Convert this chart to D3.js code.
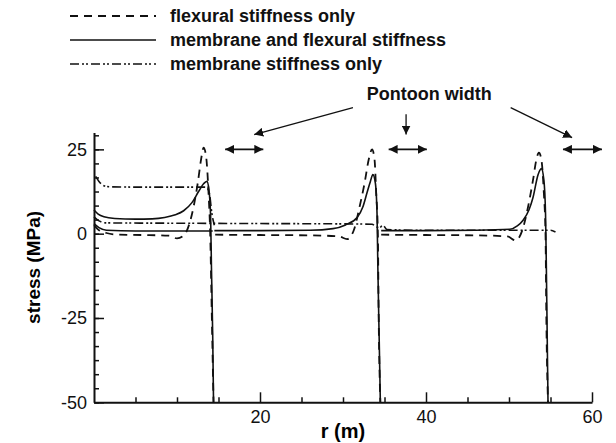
<!DOCTYPE html>
<html>
<head>
<meta charset="utf-8">
<script src="https://cdn.jsdelivr.net/npm/d3@7"></script>
<style>
body { margin: 0; background: #fff; }
svg { display: block; font-family: "Liberation Sans", Arial, sans-serif; }
</style>
</head>
<body>
<div id="chart"></div>
<script>
// stress along r, one piece per pontoon: [r (m), stress (MPa)]
const flexuralOnly = [
  [[0,2.5],[0.5,1.2],[1.5,0.2],[3,-0.3],[6,-0.4],[9,-0.6],[10,-1.4],[10.8,-0.6],[11.5,3],[12,8],[12.5,15],[12.9,22],[13.2,25.5],[13.5,23],[13.8,12],[14,0],[14.2,-25],[14.4,-50]],
  [[14.6,-0.3],[20,-0.4],[26,-0.5],[29.5,-0.8],[30.5,-1.6],[31.3,1],[32,8],[32.6,15],[33.1,22],[33.5,25],[33.8,22],[34,12],[34.2,0],[34.3,-25],[34.5,-50]],
  [[34.6,-0.3],[40,-0.4],[46,-0.5],[49.8,-0.8],[50.8,-2],[51.6,1],[52.3,8],[52.9,16],[53.3,22],[53.6,24],[53.9,22],[54.2,12],[54.4,0],[54.5,-25],[54.7,-50]]
];
const membraneAndFlexural = [
  [[0,7],[0.5,5.8],[1.2,5],[2.5,4.5],[5,4.3],[7,4.4],[8.5,4.8],[9.8,5.6],[10.8,6.8],[11.8,9.2],[12.6,12.5],[13.2,14.8],[13.6,15.5],[13.85,13],[14.05,5],[14.15,-10],[14.3,-30],[14.4,-50]],
  [[0,3],[0.6,1.8],[1.5,1],[5,0.8],[10,0.8],[14.3,0.8]],
  [[14.5,0.9],[20,0.9],[26,1],[28.8,1.5],[30.3,2.6],[31.7,4.8],[32.4,8],[32.9,12.2],[33.3,15.5],[33.6,17.5],[33.9,15],[34.1,6],[34.2,-10],[34.35,-30],[34.5,-50]],
  [[34.6,0.9],[40,0.9],[46,1],[50.1,1.3],[51,2.3],[51.7,4],[52.4,7],[52.9,10.8],[53.5,17.5],[53.9,19.3],[54.2,16],[54.4,6],[54.5,-10],[54.6,-30],[54.7,-50]]
];
const membraneOnly = [
  [[0.2,17],[0.6,15.5],[1.2,14.2],[2,13.9],[6,13.8],[10,13.8],[13.5,13.8],[13.9,12],[14.2,6],[14.5,2.5]],
  [[0,5],[0.6,3.8],[1.5,3.2],[10,3.1],[20,3],[30,2.9],[33.5,2.8],[34,2],[34.4,1.8],[34.8,2.5],[35.3,1.2],[40,1],[50,1],[55,1],[55.6,0.5]]
];

const seriesNames = ['flexural stiffness only', 'membrane and flexural stiffness', 'membrane stiffness only'];
const xMajorTicks = [20, 40, 60];
const xMinorTicks = [5, 10, 15, 25, 30, 35, 45, 50, 55];
const yMajorTicks = [-50, -25, 0, 25];
const yMinorTicks = d3.range(-50, 30, 25 / 6);

// pontoon width markers (r range) and the label arrows
const pontoonFrom = [15.8, 35.5, 56.5];
const pontoonTo = [20.4, 40.1, 61.2];
const pontoonLevel = 25;
const labelArrows = [
  [[31.2, 37.4], [19.3, 29.4]],
  [[37.6, 35.4], [37.6, 29.4]],
  [[50.2, 37.4], [57.6, 28.5]]
];

const width = 616, height = 443;
const svg = d3.select('#chart').append('svg')
  .attr('width', width)
  .attr('height', height);

const x = d3.scaleLinear().domain([0, 60]).range([94, 592]);
const y = d3.scaleLinear().domain([-50, 30]).range([402.3, 132.5]);

const dashes = ['8,6', null, '9,3,2,2,2,3'];
const strokeW = [1.8, 1.6, 1.6];
const allSeries = [flexuralOnly, membraneAndFlexural, membraneOnly];

const line = d3.line()
  .x(d => x(d[0]))
  .y(d => y(d[1]))
  .curve(d3.curveMonotoneX);

const curves = svg.append('g');
allSeries.forEach((pieces, i) => {
  curves.selectAll(null)
    .data(pieces)
    .enter()
    .append('path')
    .attr('d', line)
    .attr('fill', 'none')
    .attr('stroke', '#111')
    .attr('stroke-width', strokeW[i])
    .attr('stroke-dasharray', dashes[i]);
});

// axes, ticks drawn inward
svg.append('g')
  .attr('transform', `translate(${x(0)},0)`)
  .call(d3.axisLeft(y).tickValues(yMajorTicks).tickSize(-10).tickSizeOuter(0).tickPadding(7).tickFormat(d => String(d)));
svg.append('g')
  .attr('transform', `translate(${x(0)},0)`)
  .call(d3.axisLeft(y).tickValues(yMinorTicks).tickSize(-5).tickSizeOuter(0).tickFormat(''))
  .select('.domain').remove();

svg.append('g')
  .attr('transform', `translate(0,${y(-50)})`)
  .call(d3.axisBottom(x).tickValues(xMajorTicks).tickSize(-10).tickSizeOuter(0).tickPadding(8).tickFormat(d => String(d)));
svg.append('g')
  .attr('transform', `translate(0,${y(-50)})`)
  .call(d3.axisBottom(x).tickValues(xMinorTicks).tickSize(-5).tickSizeOuter(0).tickFormat(''))
  .select('.domain').remove();

svg.selectAll('.domain').attr('stroke', '#111').attr('stroke-width', 2);
svg.selectAll('.tick line').attr('stroke', '#111').attr('stroke-width', 1.5);
svg.selectAll('.tick text')
  .attr('fill', '#111')
  .style('font-size', '18px')
  .style('font-family', '"Liberation Sans", Arial, sans-serif');

svg.append('text')
  .attr('x', (x(0) + x(60)) / 2)
  .attr('y', 438)
  .attr('text-anchor', 'middle')
  .style('font-size', '20px')
  .style('font-weight', 'bold')
  .text('r (m)');

svg.append('text')
  .attr('transform', `translate(40,${(y(-50) + y(30)) / 2}) rotate(-90)`)
  .attr('text-anchor', 'middle')
  .style('font-size', '19px')
  .style('font-weight', 'bold')
  .text('stress (MPa)');

// arrowheads
const defs = svg.append('defs');
defs.append('marker')
  .attr('id', 'head')
  .attr('viewBox', '0 0 10 10')
  .attr('refX', 10).attr('refY', 5)
  .attr('markerWidth', 9).attr('markerHeight', 9)
  .attr('markerUnits', 'userSpaceOnUse')
  .attr('orient', 'auto-start-reverse')
  .append('path')
  .attr('d', 'M0,0L10,5L0,10Z')
  .attr('fill', '#111');

svg.append('g').selectAll('line')
  .data(pontoonFrom)
  .enter()
  .append('line')
  .attr('x1', d => x(d))
  .attr('x2', (d, i) => x(pontoonTo[i]))
  .attr('y1', y(pontoonLevel))
  .attr('y2', y(pontoonLevel))
  .attr('stroke', '#111')
  .attr('stroke-width', 1.6)
  .attr('marker-start', 'url(#head)')
  .attr('marker-end', 'url(#head)');

svg.append('g').selectAll('line')
  .data(labelArrows)
  .enter()
  .append('line')
  .attr('x1', d => x(d[0][0]))
  .attr('y1', d => y(d[0][1]))
  .attr('x2', d => x(d[1][0]))
  .attr('y2', d => y(d[1][1]))
  .attr('stroke', '#111')
  .attr('stroke-width', 1.3)
  .attr('marker-end', 'url(#head)');

svg.append('text')
  .attr('x', x(40.4))
  .attr('y', y(39.7))
  .attr('text-anchor', 'middle')
  .style('font-size', '18px')
  .style('font-weight', 'bold')
  .attr('fill', '#111')
  .text('Pontoon width');

// legend
const legend = svg.append('g').selectAll('g')
  .data(seriesNames)
  .enter()
  .append('g')
  .attr('transform', (d, i) => `translate(0,${16 + i * 24})`);
legend.append('line')
  .attr('x1', 70).attr('x2', 156)
  .attr('stroke', '#111')
  .attr('stroke-width', (d, i) => strokeW[i])
  .attr('stroke-dasharray', (d, i) => dashes[i]);
legend.append('text')
  .attr('x', 170)
  .attr('dy', '0.35em')
  .style('font-size', '18px')
  .style('font-weight', 'bold')
  .attr('fill', '#111')
  .text(d => d);
</script>
</body>
</html>
